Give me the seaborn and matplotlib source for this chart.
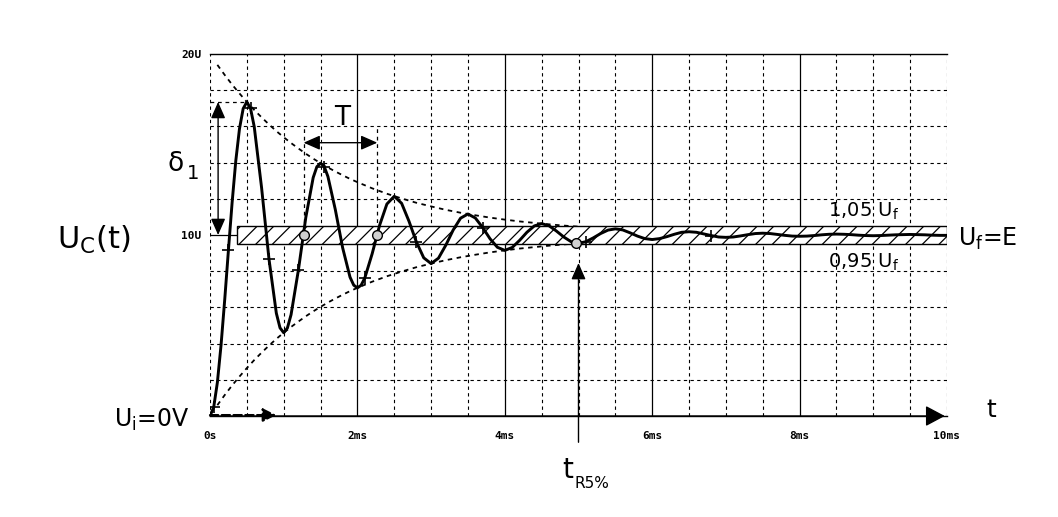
import matplotlib
matplotlib.use("Agg")
import matplotlib.pyplot as plt
from matplotlib.patches import Rectangle
import pandas as pd
import seaborn as sns

# capacitor voltage (t in ms, u in V)
t_ms = [0.0, 0.05, 0.1, 0.15, 0.2, 0.25, 0.3, 0.35, 0.4, 0.45,
        0.5, 0.55, 0.6, 0.7, 0.8, 0.9, 0.95,
        1.0, 1.05, 1.1, 1.2, 1.3, 1.4, 1.45, 1.5, 1.55, 1.6, 1.7, 1.8, 1.9, 1.95,
        2.0, 2.05, 2.1, 2.2, 2.3, 2.4, 2.5, 2.6, 2.7, 2.8, 2.9,
        3.0, 3.1, 3.2, 3.3, 3.4, 3.5, 3.6, 3.7, 3.8, 3.9,
        4.0, 4.1, 4.2, 4.3, 4.4, 4.5, 4.6, 4.7, 4.8, 4.9,
        5.0, 5.1, 5.2, 5.3, 5.4, 5.5, 5.6, 5.7, 5.8, 5.9,
        6.0, 6.1, 6.2, 6.3, 6.4, 6.5, 6.6, 6.7, 6.8, 6.9,
        7.0, 7.1, 7.2, 7.3, 7.4, 7.5, 7.6, 7.7, 7.8, 7.9,
        8.0, 8.1, 8.2, 8.3, 8.4, 8.5, 8.6, 8.7, 8.8, 8.9,
        9.0, 9.1, 9.2, 9.3, 9.4, 9.5, 9.6, 9.7, 9.8, 9.9, 10.0]
u_c = [0.00, 0.48, 1.85, 3.92, 6.44, 9.16, 11.79, 14.10, 15.87, 16.98,
       17.35, 16.99, 15.99, 12.61, 8.68, 5.68, 4.87,
       4.60, 4.86, 5.60, 8.08, 10.97, 13.17, 13.77, 13.97, 13.78, 13.23, 11.41, 9.29, 7.67, 7.23,
       7.08, 7.22, 7.62, 8.96, 10.52, 11.71, 12.14, 11.75, 10.76, 9.62, 8.74,
       8.42, 8.72, 9.44, 10.28, 10.93, 11.16, 10.94, 10.41, 9.79, 9.32,
       9.15, 9.31, 9.70, 10.15, 10.50, 10.63, 10.51, 10.22, 9.89, 9.63,
       9.54, 9.63, 9.84, 10.08, 10.27, 10.34, 10.28, 10.12, 9.94, 9.80,
       9.75, 9.80, 9.91, 10.04, 10.15, 10.18, 10.15, 10.06, 9.97, 9.89,
       9.87, 9.89, 9.95, 10.02, 10.08, 10.10, 10.08, 10.03, 9.98, 9.94,
       9.93, 9.94, 9.97, 10.01, 10.04, 10.05, 10.04, 10.02, 9.99, 9.97,
       9.96, 9.97, 9.99, 10.01, 10.02, 10.03, 10.02, 10.01, 9.99, 9.98, 9.98]

# dashed envelopes
env_t = [0.1, 0.2, 0.3, 0.4, 0.5, 0.6, 0.7, 0.8, 0.9, 1.0,
         1.1, 1.2, 1.3, 1.4, 1.5, 1.6, 1.7, 1.8, 1.9, 2.0,
         2.2, 2.4, 2.6, 2.8, 3.0, 3.2, 3.4, 3.6, 3.8, 4.0,
         4.2, 4.4, 4.6, 4.8, 5.0]
env_up = [19.40, 18.84, 18.31, 17.82, 17.35, 16.91, 16.50, 16.11, 15.74, 15.40,
          15.08, 14.78, 14.49, 14.22, 13.97, 13.73, 13.51, 13.30, 13.10, 12.92,
          12.58, 12.28, 12.02, 11.78, 11.58, 11.39, 11.23, 11.09, 10.96, 10.85,
          10.75, 10.67, 10.59, 10.52, 10.46]
env_lo = [0.60, 1.16, 1.69, 2.18, 2.65, 3.09, 3.50, 3.89, 4.26, 4.60,
          4.92, 5.22, 5.51, 5.78, 6.03, 6.27, 6.49, 6.70, 6.90, 7.08,
          7.42, 7.72, 7.98, 8.22, 8.42, 8.61, 8.77, 8.91, 9.04, 9.15,
          9.25, 9.33, 9.41, 9.48, 9.54]

# scope markers on the trace
plus_t = [0.05, 0.25, 0.55, 0.8, 1.2, 1.55, 2.1, 2.8, 3.7, 5.1, 6.8]
circle_t = [1.27, 2.27, 4.97]
circle_u = [10.0, 10.0, 9.55]

U_FINAL = 10.0
band_lo, band_hi = 9.5, 10.5
band_start = 0.37
peak1 = 17.35
t_r5 = 5.0

x_ticks = [0, 2, 4, 6, 8, 10]
x_labels = ["0s", "2ms", "4ms", "6ms", "8ms", "10ms"]
y_ticks = [10, 20]
y_labels = ["10U", "20U"]

sns.set_style("white")
plt.rcParams['font.family'] = ['DejaVu Sans']
plt.rcParams['text.color'] = 'black'
plt.rcParams['hatch.linewidth'] = 0.9

df = pd.DataFrame({"t": t_ms, "u": u_c})
env = pd.DataFrame({"t": env_t, "up": env_up, "lo": env_lo})

fig = plt.figure(figsize=(10.58, 5.17), dpi=100)
ax = fig.add_axes([210/1058, 101/517, 737/1058, 362/517])
ax.set_xlim(0, 10)
ax.set_ylim(0, 20)

# grid, scope style
dash = (0, (3, 3))
for i in range(21):
    x = i * 0.5
    if x in (2, 4, 6, 8):
        ax.axvline(x, color='black', lw=0.9, zorder=1)
    else:
        ax.axvline(x, color='black', lw=0.8, ls=dash, zorder=1)
for y in range(2, 20, 2):
    if y == 10:
        ax.axhline(y, color='black', lw=0.9, zorder=1)
    else:
        ax.axhline(y, color='black', lw=0.8, ls=dash, zorder=1)

for side in ['left', 'right']:
    ax.spines[side].set_visible(False)
for side in ['top', 'bottom']:
    ax.spines[side].set_color('black')
    ax.spines[side].set_linewidth(1.0)

# tolerance band +-5%
ax.add_patch(Rectangle((band_start, band_lo), 10 - band_start, band_hi - band_lo,
                       facecolor='white', edgecolor='black', hatch='//', lw=1.0, zorder=3))

sns.lineplot(data=env, x="t", y="up", ax=ax, color='black', lw=1.3,
             linestyle=(0, (2.5, 2.5)), zorder=2)
sns.lineplot(data=env, x="t", y="lo", ax=ax, color='black', lw=1.3,
             linestyle=(0, (2.5, 2.5)), zorder=2)
sns.lineplot(data=df, x="t", y="u", ax=ax, color='black', lw=2.1,
             estimator=None, sort=False, zorder=5)

pts = df.set_index("t").loc[plus_t]
ax.plot(pts.index, pts["u"], ls='none', marker='+', ms=8, mew=1.2, color='black', zorder=6)
ax.plot(circle_t, circle_u, ls='none', marker='o', ms=7, mfc='#d0d0d0', mec='black',
        mew=1.0, zorder=6)

# period T
ax.vlines(circle_t[:2], 10.3, 16.0, colors='black', lw=0.9, linestyles=dash, zorder=2)
ax.annotate('', xy=(circle_t[1], 15.1), xytext=(circle_t[0], 15.1),
            arrowprops=dict(arrowstyle='<|-|>,head_length=0.5,head_width=0.22',
                            color='black', lw=1.0, shrinkA=0, shrinkB=0, mutation_scale=20),
            zorder=7)
ax.text(1.79, 16.45, "T", fontsize=19, ha='center', va='center')

# first overshoot delta1
ax.hlines(peak1, 0.0, 0.5, colors='black', lw=0.9, linestyles=dash, zorder=2)
ax.annotate('', xy=(0.11, peak1), xytext=(0.11, U_FINAL),
            arrowprops=dict(arrowstyle='<|-|>,head_length=0.5,head_width=0.22',
                            color='black', lw=1.0, shrinkA=0, shrinkB=0, mutation_scale=20),
            zorder=7)
ax.text(-0.46, 13.9, "δ", fontsize=19, ha='center', va='center', clip_on=False)
ax.text(-0.23, 13.4, "1", fontsize=14, ha='center', va='center', clip_on=False)

# response time at 5%
ax.annotate('', xy=(t_r5, 8.45), xytext=(t_r5, -1.45), annotation_clip=False,
            arrowprops=dict(arrowstyle='-|>,head_length=0.5,head_width=0.22',
                            color='black', lw=1.0, shrinkA=0, shrinkB=0, mutation_scale=20),
            zorder=7)
ax.text(4.85, -3.0, "t", fontsize=20, ha='center', va='center', clip_on=False)
ax.text(4.95, -3.75, "R5%", fontsize=11, ha='left', va='center', clip_on=False)

# axis arrows
ax.annotate('', xy=(9.97, 0), xytext=(0, 0), annotation_clip=False,
            arrowprops=dict(arrowstyle='-|>,head_length=0.6,head_width=0.32',
                            color='black', lw=1.0, shrinkA=0, shrinkB=0, mutation_scale=20),
            zorder=7)
ax.annotate('', xy=(0.9, 0.05), xytext=(0, 0.05), annotation_clip=False,
            arrowprops=dict(arrowstyle='-|>,head_length=0.4,head_width=0.2',
                            color='black', lw=1.6, ls='--', shrinkA=0, shrinkB=0,
                            mutation_scale=20),
            zorder=7)

# labels around the plot
ax.text(-1.085, 9.7, "U$_\\mathregular{C}$(t)", fontsize=22, ha='right', va='center',
        clip_on=False)
ax.text(-0.27, -0.2, "U$_\\mathregular{i}$=0V", fontsize=17, ha='right', va='center',
        clip_on=False)
ax.text(10.15, 9.8, "U$_\\mathregular{f}$=E", fontsize=17, ha='left', va='center',
        clip_on=False)
ax.text(8.38, 11.3, "1,05 U$_\\mathregular{f}$", fontsize=14, ha='left', va='center')
ax.text(8.38, 8.5, "0,95 U$_\\mathregular{f}$", fontsize=14, ha='left', va='center')
ax.text(10.6, 0.35, "t", fontsize=18, ha='center', va='center', clip_on=False)

ax.set_xticks(x_ticks)
ax.set_xticklabels(x_labels, fontfamily='DejaVu Sans Mono', fontweight='bold', fontsize=8)
ax.set_yticks(y_ticks)
ax.set_yticklabels(y_labels, fontfamily='DejaVu Sans Mono', fontweight='bold', fontsize=8)
ax.tick_params(axis='x', direction='out', length=5, width=1, pad=6, colors='black')
ax.tick_params(axis='y', direction='out', length=5, width=1, pad=1, colors='black')
ax.set_xlabel("")
ax.set_ylabel("")

fig.savefig("out.png", dpi=100)
